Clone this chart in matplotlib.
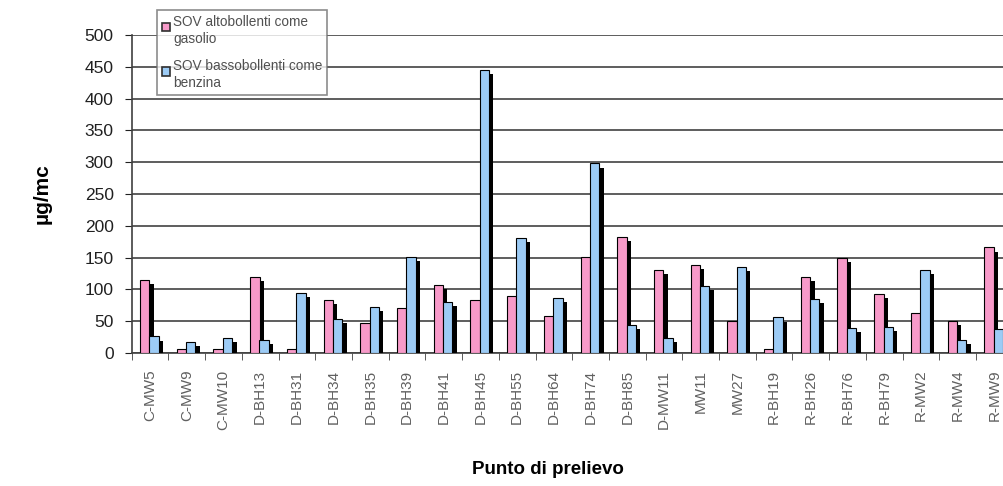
import numpy as np
import matplotlib
matplotlib.use('Agg')
import matplotlib.pyplot as plt
import matplotlib.patches as mpatches
from matplotlib.legend_handler import HandlerPatch

punti = ['C-MW5', 'C-MW9', 'C-MW10', 'D-BH13', 'D-BH31', 'D-BH34', 'D-BH35', 'D-BH39',
         'D-BH41', 'D-BH45', 'D-BH55', 'D-BH64', 'D-BH74', 'D-BH85', 'D-MW11', 'MW11',
         'MW27', 'R-BH19', 'R-BH26', 'R-BH76', 'R-BH79', 'R-MW2', 'R-MW4', 'R-MW9']
altobollenti = [115, 7, 7, 119, 7, 83, 47, 71, 107, 84, 90, 58,
                151, 182, 131, 138, 51, 7, 120, 149, 93, 63, 51, 166]
bassobollenti = [26, 17, 24, 20, 94, 54, 72, 151, 80, 445, 181, 86,
                 298, 44, 24, 105, 135, 56, 85, 39, 41, 130, 21, 37]
serie = ['SOV altobollenti come\ngasolio', 'SOV bassobollenti come\nbenzina']

plt.rcParams['font.family'] = ['Liberation Sans', 'DejaVu Sans']


def top_square(legend, orig_handle, xdescent, ydescent, width, height, fontsize):
    # small square aligned with the first text line
    s = 0.62 * fontsize
    return mpatches.Rectangle((-xdescent, -ydescent + height - s - 0.2 * fontsize), s, s)


fig = plt.figure(figsize=(10.04, 4.86), dpi=100)
ax = fig.add_axes([0.1312, 0.2737, 0.8775, 0.6543])

x = np.arange(len(punti))
w = 0.255
dx = 0.12   # shadow offset (x, data units)
dy = 6.5    # shadow offset (y, data units)
x_pink = x - 0.5 + 0.226
x_blue = x - 0.5 + 0.48

pink = '#F79AC9'
blue = '#9CCBF5'

sh1 = np.maximum(np.array(altobollenti) - dy, 0)
sh2 = np.maximum(np.array(bassobollenti) - dy, 0)
ax.bar(x_pink + dx, sh1, w, align='edge', color='black', zorder=2)
ax.bar(x_pink, altobollenti, w, align='edge', color=pink, edgecolor='black', linewidth=0.8, zorder=3)
ax.bar(x_blue + dx, sh2, w, align='edge', color='black', zorder=4)
ax.bar(x_blue, bassobollenti, w, align='edge', color=blue, edgecolor='black', linewidth=0.8, zorder=5)

ax.set_xlim(-0.5, len(punti) - 0.5)
ax.set_ylim(0, 500)
ax.set_yticks(np.arange(0, 501, 50))
ax.yaxis.grid(True, color='#505050', linewidth=1.3)
ax.set_axisbelow(True)
for s in ['top', 'right']:
    ax.spines[s].set_visible(False)
ax.spines['left'].set_color('#404040')
ax.spines['bottom'].set_color('#404040')
ax.spines['left'].set_linewidth(1.2)
ax.spines['bottom'].set_linewidth(1.2)

ax.set_xticks(x)
ax.set_xticklabels(punti, rotation=90, fontsize=11, color='#606060')
ax.set_xticks(x - 0.5, minor=True)
ax.tick_params(axis='x', which='major', length=0, pad=12)
ax.tick_params(axis='x', which='minor', length=5, color='#404040')
ax.tick_params(axis='y', labelsize=12.5, colors='#202020', length=5, pad=8)

ax.set_ylabel('µg/mc', fontsize=15, fontweight='bold', labelpad=24)
ax.set_xlabel('Punto di prelievo', fontsize=13.5, fontweight='bold', labelpad=20)
ax.xaxis.set_label_coords(0.4725, -0.34)

handles = [mpatches.Patch(facecolor=pink, edgecolor='#303030', linewidth=1.2),
           mpatches.Patch(facecolor=blue, edgecolor='#303030', linewidth=1.2)]
leg = ax.legend(handles, serie, loc='upper left', bbox_to_anchor=(0.1564, 0.979),
                bbox_transform=fig.transFigure,
                fontsize=9.8, frameon=True, fancybox=False, edgecolor='#707070',
                handlelength=0.65, handleheight=2.2, handletextpad=0.2, labelspacing=1.0,
                borderpad=0.35, borderaxespad=0, labelcolor='#505050',
                handler_map={mpatches.Patch: HandlerPatch(patch_func=top_square)})
leg.get_frame().set_linewidth(1.2)
for t in leg.get_texts():
    t.set_linespacing(1.25)
leg.set_zorder(10)

fig.savefig('out.png', dpi=100)
